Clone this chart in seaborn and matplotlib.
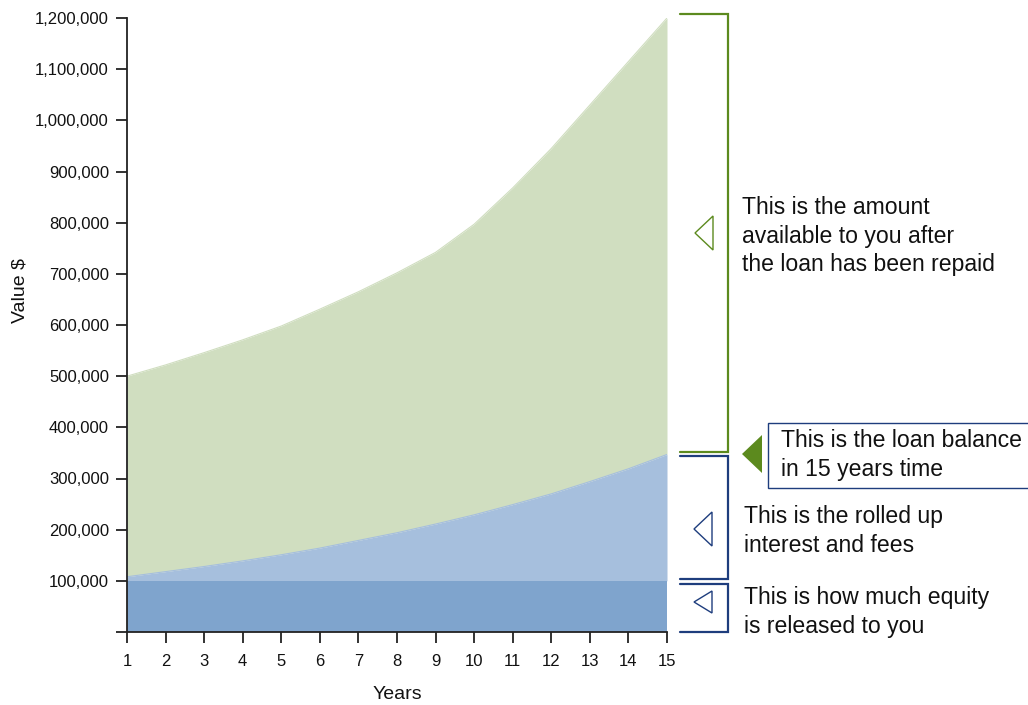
import matplotlib
matplotlib.use("Agg")
import matplotlib.pyplot as plt
import seaborn as sns
import pandas as pd
from matplotlib.patches import Polygon, Rectangle
from matplotlib.lines import Line2D
from matplotlib.ticker import FuncFormatter

# --- data ---
years = list(range(1, 16))
equity = [100000] * 15
loan_balance = [108000, 118000, 128000, 139000, 151000, 164000, 179000, 194000,
                211000, 229000, 249000, 270000, 294000, 319000, 347000]
property_value = [500000, 522000, 546000, 571000, 598000, 631000, 665000, 702000,
                  742000, 797000, 868000, 945000, 1030000, 1115000, 1200000]
y_ticks = list(range(0, 1200001, 100000))

notes = {
    "available": "This is the amount\navailable to you after\nthe loan has been repaid",
    "balance": "This is the loan balance\nin 15 years time",
    "interest": "This is the rolled up\ninterest and fees",
    "equity": "This is how much equity\nis released to you",
}

GREEN_FILL = "#d0dec0"
LIGHT_BLUE = "#a6bfdd"
DARK_BLUE = "#7fa4cd"
GREEN_LINE = "#5c8a1e"
NAVY = "#1e3d7d"

df = pd.DataFrame({"Years": years, "equity": equity,
                   "loan": loan_balance, "property": property_value})

sns.set_theme(style="ticks")
plt.rcParams["font.family"] = ["Liberation Sans", "DejaVu Sans"]

W, H = 1028, 705
fig = plt.figure(figsize=(W / 100, H / 100), dpi=100)
ax = fig.add_axes([127 / W, 1 - 632 / H, 540 / W, 614 / H])

# stacked areas
ax.fill_between(df["Years"], df["loan"], df["property"], color=GREEN_FILL, lw=0)
ax.fill_between(df["Years"], df["equity"], df["loan"], color=LIGHT_BLUE, lw=0)
ax.fill_between(df["Years"], 0, df["equity"], color=DARK_BLUE, lw=0)
sns.lineplot(data=df, x="Years", y="property", color=GREEN_FILL, lw=0.8, ax=ax)
sns.lineplot(data=df, x="Years", y="loan", color=LIGHT_BLUE, lw=0.8, ax=ax)

ax.set_xlim(1, 15)
ax.set_ylim(0, 1200000)
ax.set_xticks(years)
ax.set_yticks(y_ticks)
ax.yaxis.set_major_formatter(FuncFormatter(lambda v, p: "" if v == 0 else f"{int(v):,}"))
ax.tick_params(axis="both", length=8, width=1.3, color="#222222",
               labelsize=12, labelcolor="#111111")
ax.tick_params(axis="x", pad=8)
ax.tick_params(axis="y", pad=5)
for s in ["left", "bottom"]:
    ax.spines[s].set_linewidth(1.3)
    ax.spines[s].set_color("#222222")
sns.despine(ax=ax)
ax.set_xlabel("Years", fontsize=14, labelpad=12, color="#111111")
ax.set_ylabel("Value $", fontsize=14, labelpad=6, color="#111111")
ax.yaxis.set_label_coords(-0.182, 0.557)


# --- annotations on the right (figure pixel positions) ---
def fp(x, y):
    return (x / W, 1 - y / H)


def bracket(top, bottom, color):
    xs = [680, 728, 728, 680]
    ys = [top, top, bottom, bottom]
    pts = [fp(x, y) for x, y in zip(xs, ys)]
    fig.add_artist(Line2D([p[0] for p in pts], [p[1] for p in pts],
                          color=color, lw=1.6, transform=fig.transFigure,
                          solid_joinstyle="miter"))


def triangle(tip_x, tip_y, base_x, half_h, color, filled=False):
    pts = [fp(tip_x, tip_y), fp(base_x, tip_y - half_h), fp(base_x, tip_y + half_h)]
    fig.add_artist(Polygon(pts, closed=True, transform=fig.transFigure,
                           facecolor=color if filled else "white",
                           edgecolor=color, lw=1.0 if not filled else 0))


bracket(14, 452, GREEN_LINE)
bracket(456, 579, NAVY)
bracket(584, 632, NAVY)

triangle(695, 233, 713, 17, GREEN_LINE)
triangle(694, 529, 712, 17, NAVY)
triangle(694, 602, 712, 11, NAVY)
triangle(742, 454, 762, 19, GREEN_LINE, filled=True)

# box around the loan balance note
x0, y0 = fp(768, 488)
x1, y1 = fp(1030, 423)
fig.add_artist(Rectangle((x0, y0), x1 - x0, y1 - y0, transform=fig.transFigure,
                         facecolor="white", edgecolor=NAVY, lw=1.0))

txt_kw = dict(fontsize=16.6, color="#111111", ha="left", va="center",
              linespacing=1.3, transform=fig.transFigure)
fig.text(*fp(742, 236), notes["available"], **txt_kw)
fig.text(*fp(781, 455), notes["balance"], **txt_kw)
fig.text(*fp(744, 531), notes["interest"], **txt_kw)
fig.text(*fp(744, 612), notes["equity"], **txt_kw)

fig.savefig("out.png", dpi=100)
